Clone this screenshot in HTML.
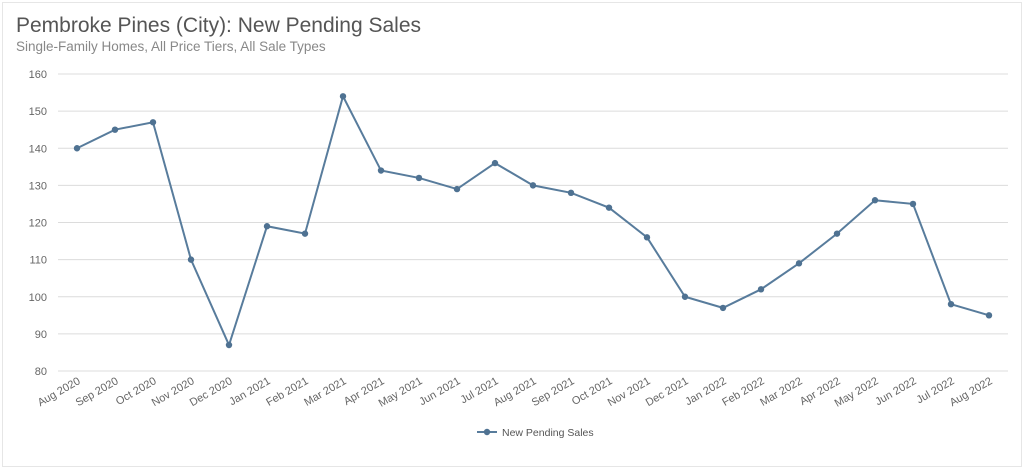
<!DOCTYPE html>
<html><head><meta charset="utf-8"><style>
html,body{margin:0;padding:0;background:#fff;}
#wrap{position:relative;width:1024px;height:469px;overflow:hidden;font-family:"Liberation Sans",sans-serif;}
#frame{position:absolute;left:2px;top:2px;width:1018px;height:463px;border:1px solid #e6e6e6;}
#title{position:absolute;left:16px;top:14px;font-size:21px;color:#555;}
#sub{position:absolute;left:16px;top:39px;font-size:13.5px;color:#888;}
</style></head><body>
<div id="wrap">
<div id="frame"></div>
<div id="title">Pembroke Pines (City): New Pending Sales</div>
<div id="sub">Single-Family Homes, All Price Tiers, All Sale Types</div>
<svg id="svg" width="1024" height="469" style="position:absolute;left:0;top:0"></svg>
</div>
<script>
const categories=["Aug 2020","Sep 2020","Oct 2020","Nov 2020","Dec 2020","Jan 2021","Feb 2021","Mar 2021","Apr 2021","May 2021","Jun 2021","Jul 2021","Aug 2021","Sep 2021","Oct 2021","Nov 2021","Dec 2021","Jan 2022","Feb 2022","Mar 2022","Apr 2022","May 2022","Jun 2022","Jul 2022","Aug 2022"];
const pendingSales=[140,145,147,110,87,119,117,154,134,132,129,136,130,128,124,116,100,97,102,109,117,126,125,98,95];
const yTicks=[80,90,100,110,120,130,140,150,160];
const NS="http://www.w3.org/2000/svg";
const svg=document.getElementById('svg');
const x0=77,x1=989,y0=371,y1=74,ymin=80,ymax=160;
function xs(i){return x0+(x1-x0)*i/(categories.length-1);}
function ys(v){return y0-(v-ymin)/(ymax-ymin)*(y0-y1);}
function mk(t,a){const e=document.createElementNS(NS,t);for(const k in a)e.setAttribute(k,a[k]);svg.appendChild(e);return e;}
yTicks.forEach(v=>{
  const l=mk('line',{x1:58,x2:1008,y1:ys(v),y2:ys(v),stroke:'#dcdcdc','stroke-width':1});
  
  
  const t=mk('text',{x:47,y:ys(v)+4,'text-anchor':'end','font-size':11,fill:'#666','font-family':'Liberation Sans, sans-serif'});
  t.textContent=v;
  
  
});
categories.forEach((c,i)=>{
  const x=xs(i)+4,y=y0+12;
  const t=mk('text',{x:x,y:y,'text-anchor':'end','font-size':11,fill:'#666','font-family':'Liberation Sans, sans-serif',transform:`rotate(-30 ${x} ${y})`});
  t.textContent=c;
  
  
});
const pl=mk('polyline',{points:pendingSales.map((v,i)=>xs(i)+','+ys(v)).join(' '),fill:'none',stroke:'#587c9c','stroke-width':2});


pendingSales.forEach((v,i)=>{
  const c=mk('circle',{cx:xs(i),cy:ys(v),r:3.2,fill:'#4f7292'});
  
  
});
const ll=mk('line',{x1:477,x2:497,y1:432,y2:432,stroke:'#587c9c','stroke-width':2});


const lc=mk('circle',{cx:487,cy:432,r:3.2,fill:'#4f7292'});


const lt=mk('text',{x:502,y:436,'font-size':10.5,fill:'#555','font-family':'Liberation Sans, sans-serif'});
lt.textContent='New Pending Sales';


</script>
</body></html>
